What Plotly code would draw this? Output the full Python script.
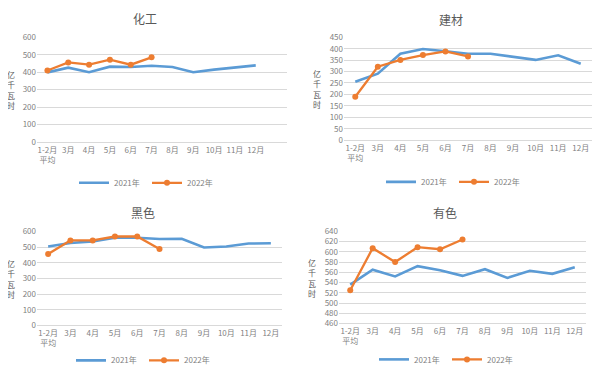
import plotly.graph_objects as go

categories = ["1-2月<br>平均", "3月", "4月", "5月", "6月", "7月", "8月", "9月", "10月", "11月", "12月"]
series_names = ["2021年", "2022年"]

chem_2021 = [399, 426, 400, 432, 430, 437, 430, 400, 415, 425, 439]
chem_2022 = [410, 456, 443, 472, 443, 485]

build_2021 = [255, 291, 378, 399, 389, 378, 378, 364, 351, 371, 334]
build_2022 = [190, 321, 351, 372, 388, 366]

ferrous_2021 = [503, 526, 536, 559, 559, 551, 553, 497, 503, 522, 524]
ferrous_2022 = [456, 542, 542, 567, 567, 487]

nonferrous_2021 = [536, 565, 552, 572, 564, 553, 566, 549, 563, 557, 570]
nonferrous_2022 = [525, 607, 580, 609, 605, 624]

titles = ["化工", "建材", "黑色", "有色"]
y_label = "亿<br>千<br>瓦<br>时"

BLUE = "#5B9BD5"
ORANGE = "#ED7D31"
GRID = "#D9D9D9"
TICK = "#7F7F7F"
TITLE = "#595959"
FONT = "Noto Sans CJK SC"
OX, OY = 8, 8          # page body offset
W, H = 600 - OX, 377 - OY


def fx(px):
    return (px - OX) / W


def fy(py):
    return 1 - (py - OY) / H


panels = [
    dict(d21=chem_2021, d22=chem_2022, x=(37, 287), y=(32, 140), yr=(0, 600), dt=100, xr=(-0.5, 11.5),
         title=(145, 13), legend=(147, 182), ylab=(11, 86)),
    dict(d21=build_2021, d22=build_2022, x=(344, 592), y=(32, 138), yr=(0, 450), dt=50, xr=(-0.5, 10.5),
         title=(451, 14), legend=(454, 181), ylab=(317, 85)),
    dict(d21=ferrous_2021, d22=ferrous_2022, x=(37, 282), y=(232, 329), yr=(0, 600), dt=100, xr=(-0.5, 10.5),
         title=(143, 213), legend=(144, 365), ylab=(11, 281)),
    dict(d21=nonferrous_2021, d22=nonferrous_2022, x=(339, 586), y=(232, 327), yr=(460, 640), dt=20, xr=(-0.5, 10.5),
         title=(445, 213), legend=(447, 364), ylab=(312, 280)),
]

fig = go.Figure()
layout = dict(width=W, height=H, autosize=False, margin=dict(l=0, r=0, t=0, b=0),
              paper_bgcolor="white", plot_bgcolor="white", font=dict(family=FONT, color=TICK, size=8))
annotations = []
xidx = list(range(len(categories)))

for i, p in enumerate(panels):
    n = "" if i == 0 else str(i + 1)
    xa, ya = "x" + n, "y" + n
    lg = "legend" + n
    fig.add_trace(go.Scatter(x=xidx[:len(p["d21"])], y=p["d21"], mode="lines", name=series_names[0],
                             line=dict(color=BLUE, width=2.6), xaxis=xa, yaxis=ya, legend=lg))
    fig.add_trace(go.Scatter(x=xidx[:len(p["d22"])], y=p["d22"], mode="lines+markers", name=series_names[1],
                             line=dict(color=ORANGE, width=2.3), marker=dict(size=6, color=ORANGE),
                             xaxis=xa, yaxis=ya, legend=lg))
    layout["xaxis" + n] = dict(domain=[fx(p["x"][0]), fx(p["x"][1])], range=list(p["xr"]),
                               tickvals=xidx, ticktext=categories, showgrid=False, zeroline=False,
                               showline=True, linecolor=GRID, linewidth=1, ticks="",
                               tickfont=dict(size=8, color=TICK, family=FONT), anchor=ya, fixedrange=True)
    layout["yaxis" + n] = dict(domain=[fy(p["y"][1]), fy(p["y"][0])], range=list(p["yr"]),
                               dtick=p["dt"], tick0=p["yr"][0], showgrid=True, gridcolor=GRID, gridwidth=1,
                               zeroline=False, showline=False, ticks="",
                               tickfont=dict(size=8, color=TICK, family=FONT), anchor=xa, fixedrange=True)
    layout[lg] = dict(orientation="h", x=fx(p["legend"][0]), y=fy(p["legend"][1]),
                      xanchor="center", yanchor="middle", font=dict(size=8, color=TICK, family=FONT),
                      bgcolor="rgba(0,0,0,0)", itemwidth=30, tracegroupgap=0,
                      entrywidth=28, entrywidthmode="pixels")
    annotations.append(dict(text=titles[i], x=fx(p["title"][0]), y=fy(p["title"][1]), xref="paper",
                            yref="paper", showarrow=False, xanchor="center", yanchor="middle",
                            font=dict(size=12, color=TITLE, family=FONT)))
    annotations.append(dict(text=y_label, x=fx(p["ylab"][0]), y=fy(p["ylab"][1]),
                            xref="paper", yref="paper", showarrow=False, xanchor="center",
                            yanchor="middle", font=dict(size=8, color=TITLE, family=FONT)))

layout["annotations"] = annotations
fig.update_layout(**layout)
fig.write_html("out.html")
